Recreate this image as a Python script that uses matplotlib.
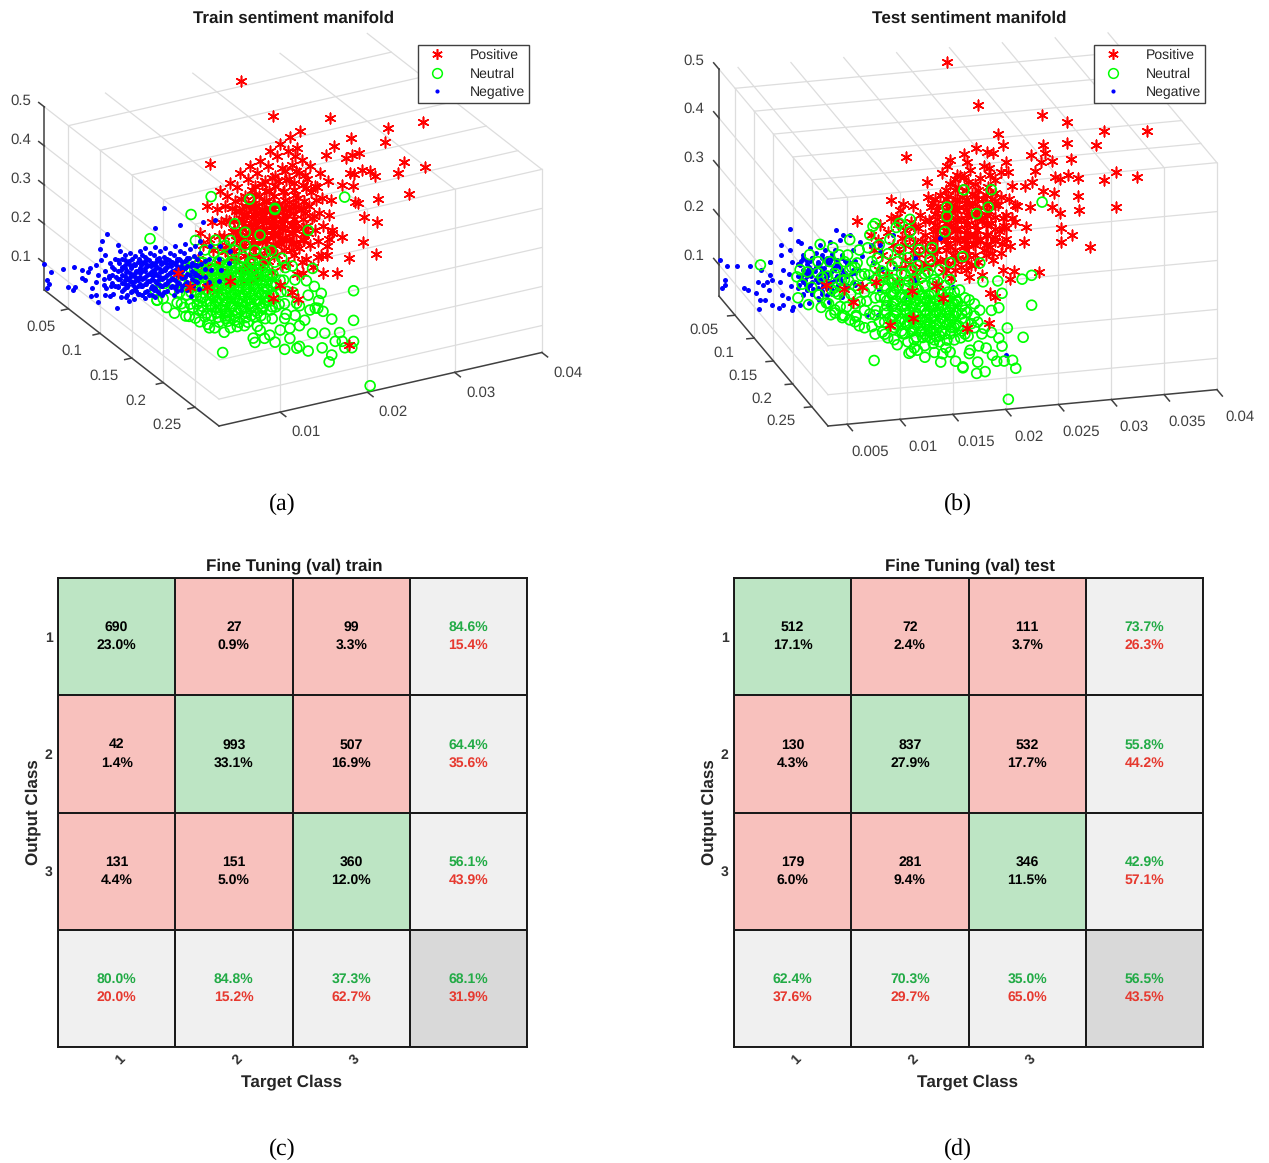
import matplotlib
matplotlib.use('Agg')
import matplotlib.pyplot as plt
import numpy as np
from matplotlib.colors import ListedColormap
from matplotlib.lines import Line2D
from mpl_toolkits.mplot3d import proj3d

plt.rcParams['font.family'] = ['Liberation Sans', 'DejaVu Sans']
plt.rcParams['text.hinting'] = 'none'
plt.rcParams['text.hinting_factor'] = 1

W, H = 1269, 1163

# manifold points, flat y,z pairs per depth group. y in 1e-4, z in 1e-3, depth x in the dict keys (1e-3)
train_pos = {
    100: [144,230, 148,197, 142,164, 146,128,
          156,401, 153,294, 158,251, 155,210, 159,179, 154,141, 157,103,
          167,326, 164,281, 169,245, 166,212, 170,179, 165,143, 168,110, 164,72,
          179,341, 176,308, 181,275, 178,244, 182,213, 177,180, 180,147, 175,116, 179,83,
          190,360, 187,327, 192,294, 189,264, 193,233, 188,202, 191,172, 186,141, 190,110, 194,80,
          202,373, 199,340, 204,309, 200,279, 197,251, 203,223, 199,195, 205,167, 201,139, 198,111, 203,80,
          213,380, 210,349, 215,319, 212,291, 209,263, 216,237, 211,212, 214,186, 208,161, 213,135, 216,110, 210,84,
          225,399, 222,361, 227,328, 224,298, 220,272, 226,247, 223,221, 228,196, 221,170, 225,145, 222,119, 227,88,
          236,411, 233,381, 238,348, 234,317, 240,286, 235,256, 232,230, 238,205, 234,179, 237,154, 233,128, 239,98,
          248,422, 245,388, 250,350, 246,317, 252,286, 247,256, 244,225, 250,195, 246,164, 249,133, 245,103,
          259,433, 256,390, 261,357, 258,326, 263,293, 257,263, 260,229, 255,199, 262,168, 258,133, 261,97, 256,69,
          270,338, 267,305, 272,269, 269,236, 273,203, 268,167, 271,134, 266,101,
          282,314, 279,279, 284,248, 281,212, 285,177, 280,141, 283,103,
          293,450, 291,289, 295,238, 292,200, 296,161, 290,123,
          360,388, 400,383, 317,386, 357,354, 298,375, 289,357, 312,338, 319,342, 327,341, 378,292,
          402,267, 371,269, 330,298, 339,290, 345,275, 316,297, 321,290, 307,269, 320,260, 384,207,
          349,212, 322,220, 325,216, 333,174, 347,154, 296,152, 307,137, 292,139, 331,111, 346,73,
          315,79, 280,99, 290,99, 301,47, 285,55, 274,76, 262,67,
          185,292, 186,266, 184,241, 185,215, 186,190, 184,164, 185,139,
          196,299, 197,273, 195,248, 196,222, 197,197, 195,171, 196,146, 197,120,
          207,319, 208,294, 206,268, 207,243, 208,217, 206,192, 207,166, 208,141, 206,115,
          219,326, 220,300, 218,275, 219,249, 220,224, 218,198, 219,173, 220,147, 218,122,
          230,333, 231,307, 229,282, 230,256, 231,231, 229,205, 230,180, 231,154, 229,129,
          242,340, 243,315, 241,289, 242,264, 243,238, 241,213, 242,187, 243,162, 241,136,
          253,373, 254,334, 252,304, 253,273, 254,243, 252,212, 253,182, 254,151, 252,120,
          265,316, 266,283, 264,252, 265,219, 266,186, 264,150, 276,284, 277,246, 275,208, 276,170,
          173,285, 174,247, 172,209, 173,170, 205,264, 206,236, 204,208, 205,180,
          228,259, 229,234, 227,208, 228,183, 239,243, 240,218, 238,192, 239,167,
          216,250, 217,224, 215,199, 216,173, 251,241, 252,210, 250,180, 251,149,
          193,267, 193,241, 193,216, 193,190, 205,274, 205,249, 205,223, 205,198, 205,172,
          216,256, 216,230, 216,205, 216,179, 228,262, 228,237, 228,211, 228,186, 228,160,
          239,245, 239,219, 239,194, 239,168, 251,251, 251,226, 251,200, 251,175, 251,149,
          262,233, 262,207, 262,182, 262,156],
    20: [249,464, 286,356],
}
train_pos_front = {
    150: [83,223, 97,178, 116,168, 143,170, 192,102, 200,131, 214,107, 221,86],
    280: [185,149],
}
train_neu = {
    150: [57,190, 59,165, 68,203, 66,165, 70,140, 80,218, 78,180, 82,146, 79,121,
          91,225, 89,191, 93,161, 90,130, 92,107, 103,295, 101,239, 105,208, 102,180, 104,152, 100,124, 103,96,
          114,265, 112,234, 116,206, 113,178, 115,150, 111,122, 114,94, 117,73,
          126,284, 124,253, 128,225, 125,197, 127,169, 123,141, 126,113, 129,85, 125,60,
          137,265, 135,237, 139,209, 136,181, 138,153, 134,125, 137,97, 140,69, 136,43,
          148,247, 146,218, 150,190, 147,162, 149,134, 145,106, 148,78, 151,50,
          160,254, 158,224, 162,196, 159,168, 161,139, 157,111, 160,83, 163,55,
          171,235, 169,205, 173,177, 170,149, 172,121, 168,93, 171,65, 174,39,
          183,224, 181,194, 185,166, 182,138, 184,110, 180,82, 183,54,
          194,193, 192,162, 196,134, 193,106, 195,78, 191,50,
          206,173, 204,142, 208,111, 205,81, 207,53, 217,136, 215,105, 219,75,
          121,398, 98,364, 194,331, 274,319, 165,369, 148,315, 194,328, 51,326, 59,164,
          143,275, 160,287, 177,271, 190,225, 202,199, 214,173,
          86,202, 85,171, 87,141, 97,227, 96,196, 98,165, 97,135, 96,104,
          108,237, 109,222, 107,206, 108,176, 109,145, 107,114, 108,84,
          120,216, 121,185, 119,154, 120,124, 121,93, 119,63,
          131,225, 132,194, 130,164, 131,133, 132,102, 130,72,
          143,219, 144,204, 142,173, 143,142, 144,112, 142,81, 143,51,
          154,198, 155,182, 153,152, 154,121, 155,90, 153,60,
          166,208, 167,162, 165,131, 166,101, 167,70,
          177,187, 178,156, 176,125, 177,95, 178,64,
          189,165, 190,135, 188,104, 189,73, 200,144, 201,113, 199,83,
          126,210, 127,182, 125,154, 126,126, 127,98,
          137,196, 138,168, 136,140, 137,112, 138,84,
          148,206, 149,178, 147,150, 148,122, 149,94,
          160,180, 161,152, 159,124, 160,96, 161,68,
          171,192, 172,164, 170,136, 171,108, 172,80,
          183,178, 184,150, 182,122, 183,94,
          105,192, 105,161, 105,131, 111,204, 111,174, 111,143, 111,112,
          116,194, 116,163, 116,132, 116,102, 122,207, 122,176, 122,146, 122,115,
          128,189, 128,158, 128,127, 128,97, 134,201, 134,170, 134,140, 134,109,
          139,183, 139,152, 139,121, 139,91, 145,195, 145,164, 145,134, 145,103,
          151,177, 151,146, 151,115, 151,85, 157,189, 157,158, 157,128, 157,97,
          162,171, 162,140, 162,109, 162,79, 168,184, 168,153, 168,123, 168,92,
          174,166, 174,135, 174,104, 174,74, 179,147, 179,117, 179,86,
          185,160, 185,129, 185,98, 191,141, 191,111, 191,80],
    280: [40,204, 75,223, 77,211, 88,216, 111,176, 125,172, 128,175, 138,158, 143,201, 157,194,
          154,158, 165,134, 162,118, 169,167, 177,163, 180,145, 188,141, 190,156, 174,187, 165,226,
          190,210, 190,286, 209,33, 149,262, 155,251, 146,264, 153,298, 150,281, 138,301, 145,320,
          136,339, 143,367, 138,467, 94,221, 106,228, 117,227, 128,228, 123,257, 134,239, 111,255,
          140,262, 128,279, 117,201, 100,200, 83,239, 65,260, 54,279, 43,290],
}
train_neg = {
    100: [36,189, 35,168, 37,143, 41,206, 40,173, 42,147, 41,122, 47,213, 46,188, 48,167, 47,144, 45,124,
          53,230, 52,200, 54,180, 53,159, 51,139, 54,113, 59,216, 58,193, 60,172, 59,152, 57,132, 60,109,
          64,220, 63,200, 65,180, 64,159, 62,139, 65,118, 63,98, 70,210, 69,189, 71,171, 70,154, 68,136, 71,118, 69,98,
          76,219, 75,199, 77,181, 76,163, 74,146, 77,128, 75,110, 82,222, 81,201, 83,183, 82,165, 80,148, 83,130, 81,112, 82,94,
          87,208, 86,191, 88,173, 87,155, 85,137, 88,119, 86,101, 93,221, 92,200, 94,182, 93,165, 91,147, 94,129, 92,111, 93,93,
          99,207, 98,190, 100,172, 99,154, 97,136, 100,118, 98,100, 104,211, 103,190, 105,172, 104,155, 102,137, 105,119, 103,101,
          110,197, 109,180, 111,162, 110,144, 108,126, 111,108, 116,210, 115,189, 117,169, 116,149, 114,128, 117,108, 115,87,
          122,196, 121,176, 123,156, 122,135, 120,115, 123,94, 127,211, 126,188, 128,168, 127,148, 125,127, 128,107,
          133,196, 132,173, 134,150, 133,127, 131,104, 134,73, 139,200, 138,175, 140,149, 139,124, 137,98,
          145,210, 144,179, 146,149, 145,118, 143,88, 156,190, 155,159, 157,129, 155,98,
          167,184, 166,153, 168,123, 166,97, 179,167, 178,137,
          103,315, 93,269, 122,263, 148,255, 162,253, 38,282, 32,267, 51,248, 30,248, 49,87,
          44,195, 44,174, 44,154, 50,208, 50,181, 50,161, 50,141,
          55,209, 55,189, 55,168, 55,148, 55,127, 61,196, 61,175, 61,155, 61,135, 61,114,
          67,204, 67,184, 67,163, 67,143, 67,122, 73,191, 73,170, 73,150, 73,130, 73,109,
          78,208, 78,188, 78,167, 78,147, 78,127, 78,106, 84,195, 84,175, 84,154, 84,134, 84,113,
          90,182, 90,161, 90,141, 90,121, 90,100, 95,189, 95,169, 95,148, 95,128, 95,107,
          101,176, 101,155, 101,135, 101,115, 101,94, 107,183, 107,163, 107,142, 107,122, 107,101,
          112,171, 112,150, 112,130, 112,110, 118,178, 118,158, 118,137, 118,117, 118,96,
          124,165, 124,144, 124,124, 124,104, 130,172, 130,152, 130,131, 130,111, 130,90,
          135,159, 135,138, 135,118, 135,98, 141,166, 141,146, 141,125, 141,105,
          59,203, 59,183, 59,162, 59,142, 70,187, 70,166, 70,146, 70,126,
          82,191, 82,171, 82,150, 82,130, 93,175, 93,154, 93,134, 93,114,
          104,180, 104,160, 104,139, 104,119, 116,164, 116,143, 116,123, 116,103,
          127,168, 127,148, 127,127, 127,107, 139,152, 139,131, 139,111,
          150,156, 150,136, 150,115, 150,95, 64,190, 64,169, 64,149,
          76,194, 76,174, 76,153, 76,133, 87,178, 87,157, 87,137,
          99,182, 99,162, 99,141, 99,121, 110,167, 110,146, 110,126, 122,171, 122,151, 122,130],
    50: [35,77, 30,87, 37,82, 46,102, 46,122, 49,95, 52,114, 55,123, 56,51, 57,71, 61,51, 64,32, 61,84, 64,101,
         62,127, 67,137, 71,71, 72,46, 72,148, 76,87],
    12: [30,99, 37,73, 33,55, 35,44, 33,35, 51,74, 64,72],
}

test_pos = {
    100: [142,225, 145,194, 151,244, 149,213, 153,182, 150,152, 161,256, 159,227, 163,199, 160,170, 158,139,
          170,270, 168,242, 172,213, 169,184, 171,152, 167,123, 180,244, 178,215, 182,186, 179,158, 181,129,
          189,256, 187,230, 191,203, 188,176, 190,150, 186,123, 199,270, 197,245, 201,220, 198,196, 200,171, 196,147,
          208,294, 206,272, 210,249, 207,227, 209,204, 205,181, 208,159, 211,136, 206,112,
          217,313, 215,290, 219,270, 216,249, 218,229, 214,208, 217,188, 220,167, 215,147, 218,122,
          227,329, 225,305, 229,284, 226,264, 228,243, 224,223, 227,202, 230,182, 225,161, 228,141,
          236,339, 234,315, 238,290, 235,268, 237,247, 233,227, 236,206, 239,186, 234,165, 237,145, 235,120,
          246,321, 244,296, 248,276, 245,255, 247,235, 243,214, 246,194, 249,173, 244,149, 247,122,
          255,325, 253,301, 257,276, 254,251, 256,227, 252,202, 255,178, 258,151,
          265,329, 263,262, 267,235, 264,208, 266,182,
          176,378, 230,373, 242,382, 217,362, 233,355, 210,338, 214,351, 224,331, 230,326, 195,323,
          161,293, 173,281, 196,292, 129,256, 182,275, 167,257, 200,279, 252,373, 258,368, 263,406,
          304,438, 328,418, 363,393, 404,385, 328,375, 355,365, 305,375, 267,383, 294,358, 307,358,
          332,341, 314,342, 303,341, 270,349, 249,345, 254,340, 374,307, 394,293, 363,293, 338,302,
          329,310, 317,307, 321,302, 298,323, 295,303, 272,328, 276,297, 288,295, 305,282, 316,276,
          338,264, 265,278, 273,271, 281,255, 293,251, 314,248, 339,236, 374,236, 321,234, 276,233,
          289,212, 322,202, 333,187, 350,159, 287,180, 322,173, 274,176, 268,217, 260,197, 301,117,
          278,124, 274,108, 267,128, 257,165, 265,163, 260,74, 255,83,
          175,228, 175,198, 175,167, 184,232, 184,201, 184,170, 184,141,
          194,242, 194,214, 194,184, 194,156, 203,285, 203,256, 203,232, 203,207, 203,182, 203,158,
          213,303, 213,283, 213,262, 213,242, 213,221, 213,201, 213,180, 213,160, 213,139,
          222,322, 222,301, 222,281, 222,260, 222,240, 222,219, 222,199, 222,178, 222,158, 222,137,
          232,299, 232,279, 232,258, 232,238, 232,217, 232,197, 232,176, 232,156, 232,135,
          241,308, 241,287, 241,267, 241,246, 241,226, 241,205, 241,185, 241,164, 241,144,
          251,285, 251,265, 251,244, 251,224, 251,203, 251,183, 251,162,
          260,314, 260,287, 260,263, 260,238, 260,214, 260,189,
          270,240, 270,214, 270,190, 279,259, 279,224,
          214,273, 214,252, 214,232, 214,211, 214,191, 224,281, 224,260, 224,240, 224,219, 224,199,
          233,269, 233,248, 233,228, 233,207, 233,187, 243,277, 243,256, 243,236, 243,215, 243,195,
          252,265, 252,244, 252,224, 252,203, 252,183, 205,264, 205,244, 205,223, 205,203],
    12: [246,475, 276,381],
}
test_pos_front = {
    200: [64,231, 89,191, 111,229, 145,203, 146,148, 197,116, 218,122, 168,208, 174,183, 124,137, 98,220, 81,221],
}
test_neu = {
    200: [39,268, 41,238, 37,211, 48,297, 46,262, 50,230, 47,195, 58,316, 56,281, 60,248, 57,213, 59,187,
          67,279, 65,250, 69,221, 66,193, 68,170, 76,291, 74,265, 78,238, 75,211, 77,185, 79,162,
          86,320, 84,289, 88,263, 85,236, 87,209, 83,183, 86,156, 95,297, 93,271, 97,244, 94,218, 96,191, 92,164, 95,142,
          105,326, 103,300, 107,271, 104,244, 106,218, 102,191, 105,164, 107,138,
          114,304, 112,277, 116,250, 113,224, 115,197, 111,170, 114,146, 117,125,
          124,313, 122,284, 126,258, 123,231, 125,204, 121,178, 124,153, 127,128, 122,112,
          133,290, 131,266, 135,241, 132,217, 134,192, 130,167, 133,143, 136,118, 131,96,
          143,305, 141,272, 145,247, 142,223, 144,198, 140,174, 143,149, 146,124, 141,100, 144,79,
          152,286, 150,254, 154,229, 151,204, 153,180, 149,155, 152,131, 155,106, 150,81,
          162,264, 160,239, 164,215, 161,190, 163,166, 159,141, 162,116, 165,92,
          171,241, 169,217, 173,192, 170,168, 172,143, 168,119, 171,94, 174,69,
          181,219, 179,194, 183,170, 180,145, 182,121, 178,96, 181,71,
          190,196, 188,172, 192,147, 189,123, 191,98, 199,174, 197,149, 201,125, 198,100, 200,71,
          209,151, 207,127, 211,102, 208,78,
          36,254, 56,258, 72,225, 86,259, 72,173, 79,167, 64,195, 92,161, 108,343, 130,336, 143,325, 176,318,
          164,288, 193,264, 181,254, 70,307, 194,400, 220,395, 217,360, 178,368, 178,349, 206,349, 143,350,
          133,344, 110,348, 268,360,
          72,253, 72,216, 72,179, 81,276, 81,239, 81,202, 81,165, 91,262, 91,225, 91,188, 91,151,
          100,247, 100,210, 100,173, 100,137, 110,258, 110,233, 110,196, 110,161, 110,122,
          119,243, 119,219, 119,194, 119,169, 119,145, 119,120, 128,230, 128,205, 128,181, 128,156, 128,132, 128,107,
          138,240, 138,216, 138,191, 138,166, 138,142, 138,117, 147,226, 147,201, 147,177, 147,152, 147,128, 147,103,
          157,236, 157,212, 157,187, 157,162, 157,138, 157,113, 157,89, 166,222, 166,197, 166,173, 166,148, 166,124, 166,99,
          176,208, 176,183, 176,158, 176,134, 176,109, 185,193, 185,169, 185,144, 185,120, 185,95,
          195,179, 195,154, 195,130, 195,105, 204,165, 204,140, 204,116,
          143,186, 143,161, 143,137, 152,192, 152,168, 152,143, 152,118,
          162,178, 162,153, 162,129, 162,104, 171,180, 171,155, 171,131, 171,106, 181,182, 181,157, 181,133, 181,108,
          121,213, 121,188, 121,163, 126,224, 126,199, 126,175, 126,150, 130,211, 130,186, 130,161, 130,137,
          135,197, 135,173, 135,148, 135,123, 140,209, 140,184, 140,159, 140,135,
          145,195, 145,171, 145,146, 145,121, 149,207, 149,182, 149,157, 149,133, 149,108,
          154,193, 154,169, 154,144, 154,119, 159,181, 159,156, 159,132, 159,107,
          163,192, 163,168, 163,143, 163,118, 168,179, 168,154, 168,130, 168,105,
          173,190, 173,166, 173,141, 173,116, 178,177, 178,152, 178,128,
          182,164, 182,139, 182,114, 187,175, 187,150, 187,126, 192,162, 192,137, 192,112],
    280: [207,44, 229,232, 221,168, 206,190, 198,171, 201,154, 211,123, 214,106, 203,123, 196,124, 192,137,
          186,153, 178,126, 185,105, 177,103, 164,117, 170,145, 198,233, 191,229, 201,262, 197,288, 220,287,
          229,293, 183,289, 180,328, 184,194, 191,184, 80,149, 113,157, 128,146, 143,133, 157,132, 164,119,
          118,167, 137,154, 148,161],
    50: [56,134],
}
test_neg = {
    100: [38,174, 40,144, 37,113, 47,189, 49,152, 46,132, 57,201, 59,170, 56,146, 58,119, 55,93,
          66,210, 68,185, 65,160, 67,136, 64,111, 68,86, 76,222, 78,197, 75,177, 77,156, 74,136, 78,115, 75,95,
          81,186, 83,165, 80,145, 82,124, 85,210, 87,189, 84,171, 86,152, 83,134, 87,115, 84,97,
          90,198, 92,180, 89,161, 91,143, 88,125, 92,106, 94,214, 96,193, 93,175, 95,156, 92,138, 96,119, 93,101,
          99,203, 101,185, 98,167, 100,148, 97,130, 101,111, 104,219, 106,194, 103,176, 105,157, 102,139, 106,120, 103,96,
          108,201, 110,181, 107,160, 109,140, 106,119, 113,221, 115,190, 112,170, 114,149, 111,129, 115,104,
          123,229, 125,198, 122,174, 124,149, 121,125, 125,96, 132,213, 134,184, 131,155, 133,127,
          142,205, 144,170, 141,137, 151,188, 153,152, 150,110,
          151,203, 163,221, 184,169, 208,206, 165,153, 184,124, 175,91, 159,78, 139,61, 149,59, 197,87, 220,103,
          116,230, 109,242, 66,253, 73,227, 57,222,
          73,180, 73,155, 73,131, 78,191, 78,166, 78,142, 78,117, 82,178, 82,153, 82,129,
          87,189, 87,164, 87,140, 87,115, 92,176, 92,151, 92,127, 96,187, 96,162, 96,138, 96,113,
          101,174, 101,149, 101,125, 106,185, 106,160, 106,136, 106,111, 110,172, 110,147, 110,123,
          115,183, 115,158, 115,134, 120,170, 120,145, 120,121, 125,156, 125,132,
          81,159, 81,135, 76,185, 76,148, 90,170, 90,145, 85,183, 85,158, 85,134,
          99,181, 99,156, 99,132, 94,169, 94,144, 108,167, 108,142, 104,180, 104,155, 104,131,
          118,177, 118,152, 118,128, 113,166, 113,141, 127,175, 127,150, 127,126],
    50: [40,90, 44,85, 55,44, 52,77, 54,100, 62,98, 65,111, 60,61, 67,50, 77,48, 87,42, 65,138],
    12: [32,114, 38,99, 48,97, 60,96, 36,72, 36,62, 33,55],
    280: [205,134],
}

# confusion matrices
train_counts = [[690, 27, 99], [42, 993, 507], [131, 151, 360]]
train_share = [[23.0, 0.9, 3.3], [1.4, 33.1, 16.9], [4.4, 5.0, 12.0]]
train_row_hit = [84.6, 64.4, 56.1]
train_row_miss = [15.4, 35.6, 43.9]
train_col_hit = [80.0, 84.8, 37.3]
train_col_miss = [20.0, 15.2, 62.7]
train_total = [68.1, 31.9]

test_counts = [[512, 72, 111], [130, 837, 532], [179, 281, 346]]
test_share = [[17.1, 2.4, 3.7], [4.3, 27.9, 17.7], [6.0, 9.4, 11.5]]
test_row_hit = [73.7, 55.8, 42.9]
test_row_miss = [26.3, 44.2, 57.1]
test_col_hit = [62.4, 70.3, 35.0]
test_col_miss = [37.6, 29.7, 65.0]
test_total = [56.5, 43.5]

class_ticks = ['1', '2', '3']
legend_names = ['Positive', 'Neutral', 'Negative']

depth_ticks = [0.05, 0.1, 0.15, 0.2, 0.25]
height_ticks = [0.1, 0.2, 0.3, 0.4, 0.5]
train_width_ticks = [0.01, 0.02, 0.03, 0.04]
test_width_ticks = [0.005, 0.01, 0.015, 0.02, 0.025, 0.03, 0.035, 0.04]

GRID = '#dddddd'
AXIS = '#404040'
TEXT = '#404040'
STAR = (6, 2, 0)

fig = plt.figure(figsize=(W / 100, H / 100), dpi=100)


def label(px, py, s, **kw):
    kw.setdefault('ha', 'center')
    kw.setdefault('va', 'center')
    fig.text(px / W, 1 - py / H, s, **kw)


def project(ax, x, y, z):
    px, py, _ = proj3d.proj_transform(x, y, z, ax.get_proj())
    return ax.transData.transform((px, py))


def fit_box(ax, aspect, front, right, front_px, right_px):
    # scale and slide the 3d box so two of its corners land where they should
    ax.set_box_aspect(aspect)
    ax.apply_aspect()
    f = project(ax, *front)
    r = project(ax, *right)
    want = np.hypot(right_px[0] - front_px[0], right_px[1] - front_px[1])
    ax.set_box_aspect(aspect, zoom=want / np.hypot(*(r - f)))
    f = project(ax, *front)
    pos = ax.get_position()
    ax.set_position([pos.x0 + (front_px[0] - f[0]) / W,
                     pos.y0 + (H - front_px[1] - f[1]) / H,
                     pos.width, pos.height])


def group_xyz(groups):
    xs, ys, zs = [], [], []
    for depth, flat in groups.items():
        pairs = np.array(flat).reshape(-1, 2)
        xs.append(np.full(len(pairs), depth * 1e-3))
        ys.append(pairs[:, 0] * 1e-4)
        zs.append(pairs[:, 1] * 1e-3)
    return np.concatenate(xs), np.concatenate(ys), np.concatenate(zs)


def manifold(center, view, aspect, xlim, ylim, zlim, yticks, front_px, right_px,
             pos, pos_front, neu, neg, order, offs):
    size = 640
    ax = fig.add_axes([(center[0] - size / 2) / W, 1 - (center[1] + size / 2) / H, size / W, size / H],
                      projection='3d', proj_type='ortho', computed_zorder=False)
    ax.set_xlim(*xlim, view_margin=0)
    ax.set_ylim(*ylim, view_margin=0)
    ax.set_zlim(*zlim, view_margin=0)
    ax.set_xticks([])
    ax.set_yticks([])
    ax.set_zticks([])
    ax.view_init(elev=view[0], azim=view[1])
    ax.set_axis_off()
    ax.patch.set_visible(False)
    fit_box(ax, aspect, (xlim[1], ylim[0], zlim[0]), (xlim[1], ylim[1], zlim[0]), front_px, right_px)

    # grid sits on the y=min wall, the x=max wall and the top plane
    g = dict(color=GRID, lw=0.9, zorder=0)
    for x in depth_ticks:
        ax.plot([x, x], [ylim[0], ylim[0]], zlim, **g)
        ax.plot([x, x], ylim, [zlim[1], zlim[1]], **g)
    for y in yticks:
        ax.plot([xlim[1], xlim[1]], [y, y], zlim, **g)
        ax.plot(xlim, [y, y], [zlim[1], zlim[1]], **g)
    for z in height_ticks:
        ax.plot(xlim, [ylim[0], ylim[0]], [z, z], **g)
        ax.plot([xlim[1], xlim[1]], ylim, [z, z], **g)

    # axis lines, ticks, tick labels
    a = dict(color=AXIS, lw=1.1, zorder=0.5)
    ax.plot(xlim, [ylim[0], ylim[0]], [zlim[0], zlim[0]], **a)
    ax.plot([xlim[1], xlim[1]], ylim, [zlim[0], zlim[0]], **a)
    ax.plot([xlim[0], xlim[0]], [ylim[0], ylim[0]], zlim, **a)

    def tick_text(x, y, z, value):
        p = project(ax, x, y, z)
        fig.text(p[0] / W, p[1] / H, f'{value:g}', color=TEXT, fontsize=11, ha='center', va='center')

    for x in depth_ticks:
        ax.plot([x, x], [ylim[0], ylim[0] - offs['ytick']], [zlim[0], zlim[0]], **a)
        tick_text(x, ylim[0] - offs['xlab'][0], zlim[0] - offs['xlab'][1], x)
    for y in yticks:
        ax.plot([xlim[1], xlim[1] + offs['xtick']], [y, y], [zlim[0], zlim[0]], **a)
        tick_text(xlim[1] + offs['ylab'], y, zlim[0], y)
    for z in height_ticks:
        ax.plot([xlim[0], xlim[0] - offs['xtick']], [ylim[0], ylim[0]], [z, z], **a)
        tick_text(xlim[0] - offs['zlab'][0], ylim[0], z - offs['zlab'][1], z)

    ax.scatter(*group_xyz(pos), marker=STAR, s=58, color='red', linewidths=1.15, depthshade=False,
               zorder=order['pos'])
    ax.scatter(*group_xyz(neu), marker='o', s=50, facecolors='none', edgecolors='#00ff00', linewidths=1.25,
               depthshade=False, zorder=order['neu'])
    ax.scatter(*group_xyz(neg), marker='o', s=13, color='blue', linewidths=0, depthshade=False,
               zorder=order['neg'])
    ax.scatter(*group_xyz(pos_front), marker=STAR, s=58, color='red', linewidths=1.15, depthshade=False,
               zorder=5)
    return ax


def legend_at(px, py):
    handles = [
        Line2D([], [], linestyle='none', marker=STAR, ms=7.6, color='red', mew=1.15),
        Line2D([], [], linestyle='none', marker='o', ms=7, mfc='none', mec='#00ff00', mew=1.1),
        Line2D([], [], linestyle='none', marker='o', ms=3, color='blue', mew=0),
    ]
    fig.legend(handles, legend_names, loc='upper left', bbox_to_anchor=(px / W, 1 - py / H),
               bbox_transform=fig.transFigure, borderaxespad=0, fontsize=10, frameon=True, fancybox=False,
               edgecolor=AXIS, framealpha=1, handlelength=2.2, handletextpad=1.2, labelspacing=0.37,
               borderpad=0.3, labelcolor='#262626')


def confusion(left, title, counts, share, row_hit, row_miss, col_hit, col_miss, total):
    top, side = 578, 469
    ax = fig.add_axes([left / W, 1 - (top + side) / H, side / W, side / H])
    kinds = np.array([[0, 1, 1, 2], [1, 0, 1, 2], [1, 1, 0, 2], [2, 2, 2, 3]])
    cmap = ListedColormap(['#bde5c4', '#f8c1bd', '#f0f0f0', '#d9d9d9'])
    ax.pcolormesh(np.arange(5) + 0.5, np.arange(5) + 0.5, kinds, cmap=cmap, vmin=0, vmax=3,
                  edgecolors='#1a1a1a', linewidth=1.1)
    ax.set_xlim(0.5, 4.5)
    ax.set_ylim(4.5, 0.5)
    for s in ax.spines.values():
        s.set_linewidth(1.4)
        s.set_color('#1a1a1a')
    # tick marks are hidden, the small shift only nudges the rotated labels
    ax.set_xticks([1.035, 2.035, 3.035], class_ticks, rotation=45, fontsize=10, fontweight='bold', color='#333333')
    ax.set_yticks([1, 2, 3], class_ticks, fontsize=10, fontweight='bold', color='#333333')
    ax.tick_params(length=0, pad=4)

    green, red = '#22ab46', '#e6392f'
    dy = 0.077
    t = dict(ha='center', va='center', fontsize=10, fontweight='bold')
    for i in range(3):
        for j in range(3):
            ax.text(j + 1, i + 1 - dy, str(counts[i][j]), color='black', **t)
            ax.text(j + 1, i + 1 + dy, f'{share[i][j]:.1f}%', color='black', **t)
        ax.text(4, i + 1 - dy, f'{row_hit[i]:.1f}%', color=green, **t)
        ax.text(4, i + 1 + dy, f'{row_miss[i]:.1f}%', color=red, **t)
        ax.text(i + 1, 4 - dy, f'{col_hit[i]:.1f}%', color=green, **t)
        ax.text(i + 1, 4 + dy, f'{col_miss[i]:.1f}%', color=red, **t)
    ax.text(4, 4 - dy, f'{total[0]:.1f}%', color=green, **t)
    ax.text(4, 4 + dy, f'{total[1]:.1f}%', color=red, **t)

    b = dict(fontsize=12, fontweight='bold')
    label(left + 236, 566.5, title, color='#1a1a1a', **b)
    label(left + 233.5, 1082, 'Target Class', color='#262626', **b)
    label(left - 24.5, 812, 'Output Class', color='#262626', rotation=90, **b)


# train panel
manifold((295, 230), (24.9, -28.4), (1, 1, 0.55), (0.012, 0.288), (0.003, 0.04), (0.031, 0.5),
         train_width_ticks, (219, 426), (542, 353),
         train_pos, train_pos_front, train_neu, train_neg,
         dict(pos=1, neu=2, neg=3),
         dict(ytick=0.0008, xtick=0.009, xlab=(0.0032, 0.03), ylab=0.041, zlab=(0.038, 0.032)))
# test panel
manifold((970, 230), (19.5, -15.65), (1, 1, 0.596), (0.0083, 0.292), (0.0032, 0.04), (0.036, 0.5),
         test_width_ticks, (828, 426), (1217, 390),
         test_pos, test_pos_front, test_neu, test_neg,
         dict(pos=1, neu=3, neg=2),
         dict(ytick=0.0007, xtick=0.014, xlab=(0.0029, 0.024), ylab=0.06, zlab=(0.065, 0.043)))

label(293.5, 18, 'Train sentiment manifold', fontsize=12, fontweight='bold', color='#1a1a1a')
label(969.5, 18, 'Test sentiment manifold', fontsize=12, fontweight='bold', color='#1a1a1a')
legend_at(418, 45)
legend_at(1094, 45)

confusion(58, 'Fine Tuning (val) train', train_counts, train_share, train_row_hit, train_row_miss,
          train_col_hit, train_col_miss, train_total)
confusion(734, 'Fine Tuning (val) test', test_counts, test_share, test_row_hit, test_row_miss,
          test_col_hit, test_col_miss, test_total)

cap = dict(family='Liberation Serif', fontsize=17.5, color='black')
label(282, 504, '(a)', **cap)
label(958, 504, '(b)', **cap)
label(282, 1149, '(c)', **cap)
label(958, 1149, '(d)', **cap)

fig.savefig('out.png', dpi=100)
